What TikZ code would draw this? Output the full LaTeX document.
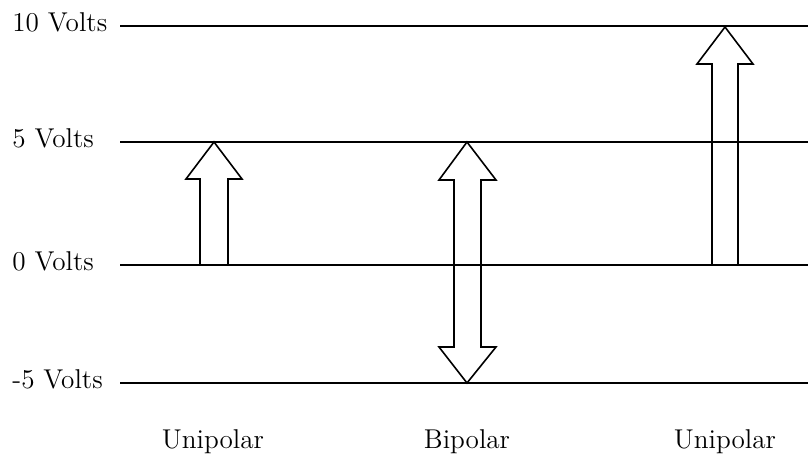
\documentclass[tikz,border=0pt]{standalone}
\usetikzlibrary{positioning}
\begin{document}
\begin{tikzpicture}[x=0.5pt,y=-0.5pt,font=\fontsize{13.6}{16}\selectfont,
    level/.style={line width=1pt},
    bigarrow/.style={line width=0.8pt,line join=miter}]
    \useasboundingbox (0,0) rectangle (811,459);
    % voltage levels
    \draw
        node[inner sep=0,anchor=base west] (t10) at (12,32) {10 Volts}
        node[inner sep=0,anchor=base west] (t5) at (12,148) {5 Volts}
        node[inner sep=0,anchor=base west] (t0) at (12,271) {0 Volts}
        node[inner sep=0,anchor=base west] (tm5) at (12,389) {-5 Volts}

        node[inner sep=0,anchor=base] (uni1) at (213,449) {Unipolar}
        node[inner sep=0,anchor=base] (bip) at (467,449) {Bipolar}
        node[inner sep=0,anchor=base] (uni2) at (725,449) {Unipolar}
    ;
    \coordinate (a10) at (120,26);  \coordinate (b10) at (808,26);
    \coordinate (a5) at (120,142);  \coordinate (b5) at (808,142);
    \coordinate (a0) at (120,265);  \coordinate (b0) at (808,265);
    \coordinate (am5) at (120,383); \coordinate (bm5) at (808,383);
    \draw[level] (a10)-- (b10);
    \draw[level] (a5)-- (b5);
    \draw[level] (a0)-- (b0);
    \draw[level] (am5)-- (bm5);

    % arrows
    \draw[bigarrow] (200,265)-- (200,179)-- (186,179)-- (214,142)-- (242,179)-- (228,179)-- (228,265);
    \draw[bigarrow] (454,180)-- (439,180)-- (467,142)-- (496,180)-- (481,180)-- (481,347)
        -- (496,347)-- (467,383)-- (439,347)-- (454,347)-- cycle;
    \draw[bigarrow] (712,265)-- (712,64)-- (697,64)-- (725,27)-- (753,64)-- (738,64)-- (738,265);
\end{tikzpicture}
\end{document}
